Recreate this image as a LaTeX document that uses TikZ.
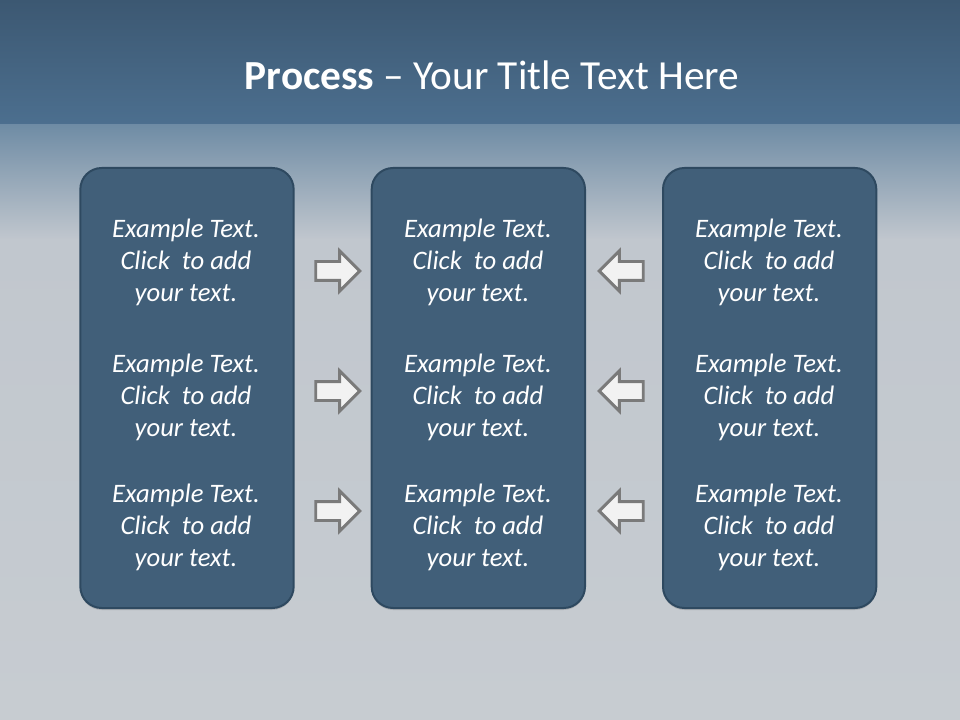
\documentclass[tikz,border=0pt]{standalone}
\usepackage{fontspec}
\setmainfont{Carlito}
\usepackage{tikz}
\usetikzlibrary{positioning, shapes.arrows, shadows}
\definecolor{bandtop}{HTML}{3C5872}
\definecolor{bandlow}{HTML}{4C6F8F}
\definecolor{hazeblue}{HTML}{6F8CA5}
\definecolor{skygray}{HTML}{C1C7CE}
\definecolor{seagray}{HTML}{C7CCD1}
\definecolor{boxfill}{HTML}{415F79}
\definecolor{boxline}{HTML}{2E4960}
\definecolor{arrowline}{HTML}{7A7A7A}
\definecolor{arrowfill}{HTML}{F2F2F2}
\tikzset{
    stagebox/.style={
        rectangle,
        rounded corners=16pt,
        draw=boxline,
        line width=1.5pt,
        fill=boxfill,
        minimum width=160pt,
        minimum height=330pt,
        drop shadow={shadow xshift=0pt, shadow yshift=-1.5pt, opacity=0.35}
    },
    bodytext/.style={
        text=white,
        align=center,
        inner sep=0pt,
        font=\fontsize{20}{24}\selectfont\itshape
    },
    titletext/.style={
        text=white,
        inner sep=0pt,
        font=\fontsize{31}{37}\selectfont
    },
    rightarrow/.style={
        single arrow,
        draw=arrowline,
        fill=arrowfill,
        line width=2.2pt,
        inner sep=6pt,
        minimum width=28pt,
        minimum height=33pt,
        single arrow head extend=8pt
    },
    leftarrow/.style={
        rightarrow,
        shape border rotate=180
    }
}

\begin{document}
\begin{tikzpicture}[x=0.75pt, y=-0.75pt]
    \useasboundingbox (0,0) rectangle (960,720);

    % background
    \fill[top color=bandtop, bottom color=bandlow] (0,0) rectangle (960,125);
    \fill[top color=hazeblue, bottom color=skygray] (0,125) rectangle (960,240);
    \fill[top color=skygray, bottom color=seagray] (0,240) rectangle (960,720);

    \node[titletext] (title) at (492,75) {\textbf{Process} – Your Title Text Here};

    % three columns
    \node[stagebox] (boxA) at (187,388) {};
    \node[stagebox, right=57pt of boxA] (boxB) {};
    \node[stagebox, right=57pt of boxB] (boxC) {};

    \foreach \col/\cx in {A/186,B/478,C/769}
        \foreach \row/\cy in {1/262,2/397,3/527}
            \node[bodytext] (t\col\row) at (\cx,\cy) {Example Text.\\Click~ to add\\your text.};

    % block arrows
    \foreach \row/\cy in {1/271,2/391,3/511} {
        \node[rightarrow] (ra\row) at (333,\cy) {};
        \node[leftarrow] (la\row) at (626,\cy) {};
    }
\end{tikzpicture}
\end{document}
